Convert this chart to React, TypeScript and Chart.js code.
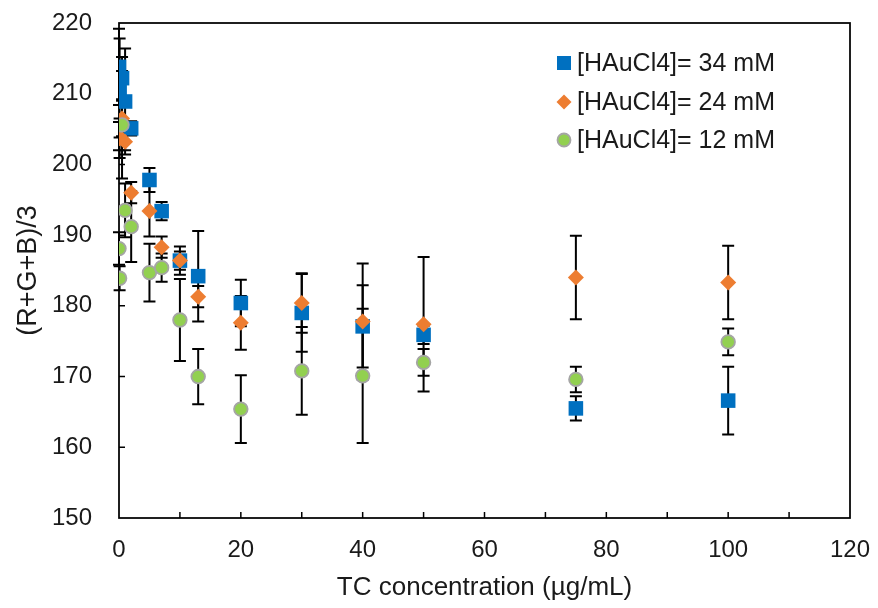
import React, { useEffect, useRef } from 'react';
import { Chart, registerables } from 'chart.js';

Chart.register(...registerables);

// TC concentration (µg/mL)
const xValues = [0, 0.1, 0.5, 1, 2, 5, 7, 10, 13, 20, 30, 40, 50, 75, 100];

// [HAuCl4] = 34 mM
const values34 = [213.8, 210.8, 212.2, 208.9, 205.1, 197.8, 193.4, 186.4, 184.2, 180.4, 179.0, 177.1, 175.9, 165.5, 166.6];
const errors34 = [5.4, 7.0, 3.0, 7.5, 1.0, 1.7, 1.3, 2.0, 6.4, 3.3, 5.5, 5.8, 1.3, 1.7, 4.8];

// [HAuCl4] = 24 mM
const values24 = [204.0, 203.7, 206.5, 203.2, 196.0, 193.4, 188.3, 186.4, 181.3, 177.6, 180.4, 177.8, 177.4, 184.0, 183.3];
const errors24 = [2.0, 2.8, 2.5, 1.2, 1.5, 3.6, 1.5, 1.3, 1.5, 3.8, 4.2, 8.2, 9.5, 5.9, 5.2];

// [HAuCl4] = 12 mM
const values12 = [188.1, 183.9, 205.6, 193.5, 191.2, 184.7, 185.4, 178.0, 170.0, 165.4, 170.8, 170.1, 172.0, 169.6, 174.9];
const errors12 = [2.3, 1.7, 7.6, 3.8, 5.0, 4.1, 2.0, 5.8, 3.9, 4.8, 6.2, 9.5, 1.9, 1.8, 1.9];

const seriesLabels = ['[HAuCl4]= 34 mM', '[HAuCl4]= 24 mM', '[HAuCl4]= 12 mM'];
const xTitle = 'TC concentration (µg/mL)';
const yTitle = '(R+G+B)/3';

const yMin = 150;
const yMax = 220;
const yStep = 10;
const xMin = 0;
const xMax = 120;
const xLabelStep = 20;
const xTickStep = 10;

const FONT = '"Liberation Sans", Arial, sans-serif';
const TEXT = '#1a1a1a';
const BLUE = '#0070C0';
const ORANGE = '#ED7D31';
const GREEN = '#92D050';
const GREEN_EDGE = '#A5A5A5';

export default function App() {
  const ref = useRef<HTMLCanvasElement>(null);

  useEffect(() => {
    document.body.style.margin = '0';
    const canvas = ref.current;
    if (!canvas) return;

    const errs = [errors34, errors24, errors12];

    const framePlugin = {
      id: 'frameTicks',
      beforeDatasetsDraw(chart: any) {
        const { ctx, chartArea: a, scales } = chart;
        const x = scales.x;
        const y = scales.y;
        ctx.save();
        ctx.strokeStyle = '#000';
        ctx.lineWidth = 1.75;
        ctx.strokeRect(a.left, a.top, a.right - a.left, a.bottom - a.top);
        ctx.lineWidth = 1.5;
        ctx.beginPath();
        for (let v = xMin + xTickStep; v < xMax; v += xTickStep) {
          const px = x.getPixelForValue(v);
          ctx.moveTo(px, a.bottom);
          ctx.lineTo(px, a.bottom - 6);
        }
        for (let v = yMin + yStep; v < yMax; v += yStep) {
          const py = y.getPixelForValue(v);
          ctx.moveTo(a.left, py);
          ctx.lineTo(a.left + 6, py);
        }
        ctx.stroke();

        // error bars
        ctx.lineWidth = 2;
        ctx.strokeStyle = '#000';
        chart.data.datasets.forEach((ds: any, i: number) => {
          ds.data.forEach((pt: any, j: number) => {
            const e = errs[i][j];
            const px = x.getPixelForValue(pt.x);
            const top = y.getPixelForValue(pt.y + e);
            const bot = y.getPixelForValue(pt.y - e);
            ctx.beginPath();
            ctx.moveTo(px, top);
            ctx.lineTo(px, bot);
            ctx.moveTo(px - 6, top);
            ctx.lineTo(px + 6, top);
            ctx.moveTo(px - 6, bot);
            ctx.lineTo(px + 6, bot);
            ctx.stroke();
          });
        });
        ctx.restore();
      },
    };

    const legendPlugin = {
      id: 'insideLegend',
      afterDraw(chart: any) {
        const { ctx } = chart;
        ctx.save();
        const mx = 564;
        const tx = 577;
        const rows = [63, 102, 140];
        ctx.fillStyle = BLUE;
        ctx.fillRect(mx - 7, rows[0] - 7, 14, 14);
        ctx.fillStyle = ORANGE;
        ctx.beginPath();
        ctx.moveTo(mx, rows[1] - 7.5);
        ctx.lineTo(mx + 7.5, rows[1]);
        ctx.lineTo(mx, rows[1] + 7.5);
        ctx.lineTo(mx - 7.5, rows[1]);
        ctx.closePath();
        ctx.fill();
        ctx.beginPath();
        ctx.arc(mx, rows[2], 6.5, 0, Math.PI * 2);
        ctx.fillStyle = GREEN;
        ctx.fill();
        ctx.lineWidth = 1.8;
        ctx.strokeStyle = GREEN_EDGE;
        ctx.stroke();

        ctx.fillStyle = TEXT;
        ctx.font = `25px ${FONT}`;
        ctx.textBaseline = 'middle';
        ctx.textAlign = 'left';
        seriesLabels.forEach((t, i) => ctx.fillText(t, tx, rows[i] + 1));
        ctx.restore();
      },
    };

    const mk = (vals: number[]) => xValues.map((xv, i) => ({ x: xv, y: vals[i] }));

    const chart = new Chart(canvas, {
      type: 'scatter',
      data: {
        datasets: [
          {
            label: seriesLabels[0],
            data: mk(values34),
            pointStyle: 'rect',
            pointRadius: 10.3,
            backgroundColor: BLUE,
            borderColor: BLUE,
            borderWidth: 0,
            order: 3,
          },
          {
            label: seriesLabels[1],
            data: mk(values24),
            pointStyle: 'rectRot',
            pointRadius: 8,
            backgroundColor: ORANGE,
            borderColor: ORANGE,
            borderWidth: 0,
            order: 2,
          },
          {
            label: seriesLabels[2],
            data: mk(values12),
            pointStyle: 'circle',
            pointRadius: 6.8,
            backgroundColor: GREEN,
            borderColor: GREEN_EDGE,
            borderWidth: 1.8,
            order: 1,
          },
        ],
      },
      options: {
        responsive: false,
        animation: false,
        devicePixelRatio: 1,
        layout: { padding: { top: 23, right: 28, left: 0, bottom: 0 } },
        plugins: {
          legend: { display: false },
          tooltip: { enabled: false },
        },
        scales: {
          x: {
            type: 'linear',
            min: xMin,
            max: xMax,
            grid: { display: false, drawTicks: false },
            border: { display: false },
            ticks: {
              stepSize: xLabelStep,
              padding: 18,
              color: TEXT,
              font: { family: FONT, size: 24 },
              maxRotation: 0,
            },
            title: {
              display: true,
              text: xTitle,
              color: TEXT,
              font: { family: FONT, size: 26 },
              padding: { top: 0, bottom: 5 },
            },
            afterFit: (s: any) => {
              s.height = 90;
              s.paddingLeft = 0;
              s.paddingRight = 0;
            },
          },
          y: {
            type: 'linear',
            min: yMin,
            max: yMax,
            grid: { display: false, drawTicks: false },
            border: { display: false },
            ticks: {
              stepSize: yStep,
              padding: 27,
              color: TEXT,
              font: { family: FONT, size: 24 },
            },
            title: {
              display: true,
              text: yTitle,
              color: TEXT,
              font: { family: FONT, size: 27 },
              padding: { top: 12, bottom: 0 },
            },
            afterFit: (s: any) => {
              s.width = 119;
              s.paddingTop = 0;
              s.paddingBottom = 0;
            },
          },
        },
      },
      plugins: [framePlugin, legendPlugin],
    });

    return () => chart.destroy();
  }, []);

  return <canvas ref={ref} width={878} height={608} style={{ display: 'block' }} />;
}
